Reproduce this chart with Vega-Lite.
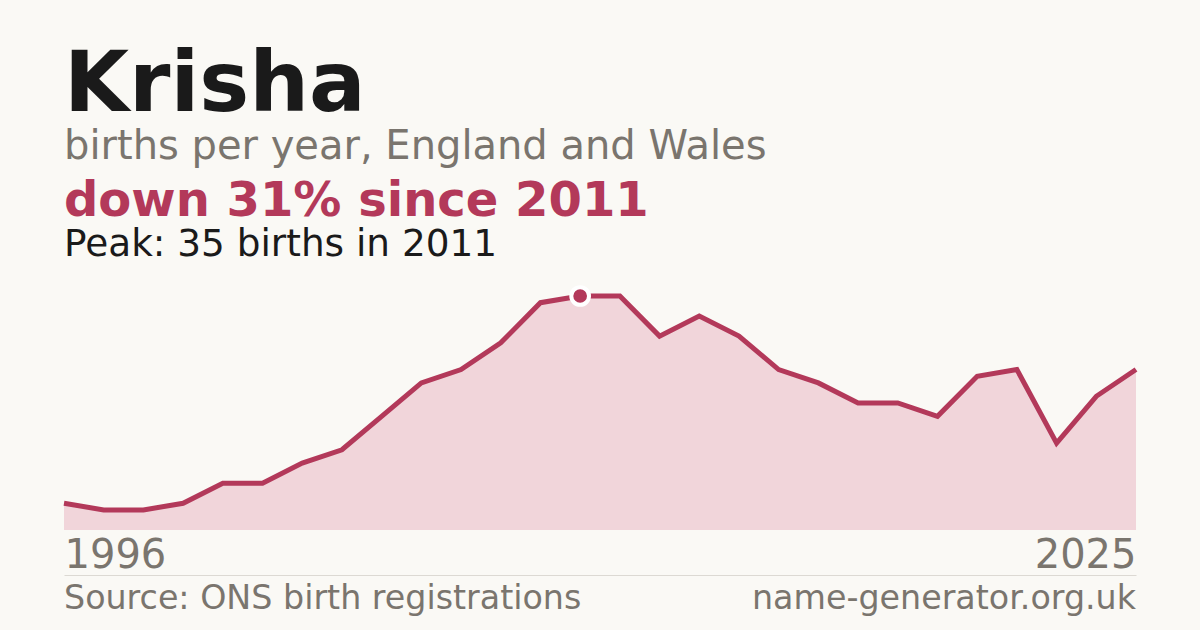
{
  "$schema": "https://vega.github.io/schema/vega-lite/v6.json",
  "background": "#faf9f5",
  "padding": {"left": 54, "right": 54, "top": 43, "bottom": 20},
  "config": {"view": {"stroke": null}, "font": "DejaVu Sans"},
  "title": {
    "text": "Krisha",
    "subtitle": "births per year, England and Wales",
    "anchor": "start",
    "frame": "group",
    "font": "DejaVu Sans",
    "fontSize": 84,
    "fontWeight": "bold",
    "color": "#1a1a1a",
    "subtitleFont": "DejaVu Sans",
    "subtitleFontSize": 40,
    "subtitleColor": "#7a756e",
    "subtitlePadding": -2,
    "offset": 10
  },
  "spacing": -5,
  "vconcat": [
    {
      "width": 1072,
      "height": 234,
      "title": {
        "text": "down 31% since 2011",
        "subtitle": "Peak: 35 births in 2011",
        "anchor": "start",
        "frame": "group",
        "font": "DejaVu Sans",
        "fontSize": 48,
        "fontWeight": "bold",
        "color": "#b3395a",
        "subtitleFont": "DejaVu Sans",
        "subtitleFontSize": 37.4,
        "subtitleColor": "#1a1a1a",
        "subtitlePadding": 0,
        "offset": 16
      },
      "data": {
        "values": [
          {"year": 1996, "births": 4},
          {"year": 1999, "births": 3},
          {"year": 2000, "births": 3},
          {"year": 2001, "births": 4},
          {"year": 2002, "births": 7},
          {"year": 2003, "births": 7},
          {"year": 2004, "births": 10},
          {"year": 2005, "births": 12},
          {"year": 2006, "births": 17},
          {"year": 2007, "births": 22},
          {"year": 2008, "births": 24},
          {"year": 2009, "births": 28},
          {"year": 2010, "births": 34},
          {"year": 2011, "births": 35},
          {"year": 2012, "births": 35},
          {"year": 2013, "births": 29},
          {"year": 2014, "births": 32},
          {"year": 2015, "births": 29},
          {"year": 2016, "births": 24},
          {"year": 2017, "births": 22},
          {"year": 2018, "births": 19},
          {"year": 2019, "births": 19},
          {"year": 2020, "births": 17},
          {"year": 2021, "births": 23},
          {"year": 2022, "births": 24},
          {"year": 2023, "births": 13},
          {"year": 2024, "births": 20},
          {"year": 2025, "births": 24}
        ]
      },
      "encoding": {
        "x": {
          "field": "year",
          "type": "ordinal",
          "scale": {"type": "point", "padding": 0},
          "axis": {
            "values": [1996, 2025],
            "title": null,
            "domain": false,
            "ticks": false,
            "tickSize": 0,
            "grid": false,
            "labelPadding": 5,
            "labelAngle": 0,
            "labelFont": "DejaVu Sans",
            "labelFontSize": 40,
            "labelColor": "#7a756e",
            "labelOverlap": false,
            "labelAlign": {"condition": {"test": "datum.value == 1996", "value": "left"}, "value": "right"}
          }
        },
        "y": {
          "field": "births",
          "type": "quantitative",
          "scale": {"domain": [0, 35], "nice": false},
          "axis": null
        }
      },
      "layer": [
        {"mark": {"type": "area", "color": "#f1d5da", "opacity": 1}},
        {"mark": {"type": "line", "color": "#b3395a", "strokeWidth": 5}},
        {
          "transform": [{"filter": "datum.year == 2011"}],
          "mark": {"type": "point", "filled": true, "fill": "#b3395a", "stroke": "#ffffff", "strokeWidth": 4, "size": 314, "opacity": 1}
        }
      ]
    },
    {
      "width": 1072,
      "height": 40,
      "data": {
        "values": [
          {"label": "Source: ONS birth registrations", "side": "left"},
          {"label": "name-generator.org.uk", "side": "right"}
        ]
      },
      "encoding": {
        "x": {
          "field": "side",
          "type": "nominal",
          "scale": {"type": "point", "padding": 0, "domain": ["left", "right"]},
          "axis": {"orient": "top", "domain": true, "domainColor": "#dcd9d3", "domainWidth": 1, "ticks": false, "labels": false, "title": null, "grid": false}
        },
        "text": {"field": "label"}
      },
      "layer": [
        {
          "transform": [{"filter": "datum.side == 'left'"}],
          "mark": {"type": "text", "align": "left", "baseline": "alphabetic", "font": "DejaVu Sans", "fontSize": 33.3, "color": "#7a756e", "dy": 14}
        },
        {
          "transform": [{"filter": "datum.side == 'right'"}],
          "mark": {"type": "text", "align": "right", "baseline": "alphabetic", "font": "DejaVu Sans", "fontSize": 33.3, "color": "#7a756e", "dy": 14}
        }
      ]
    }
  ]
}
